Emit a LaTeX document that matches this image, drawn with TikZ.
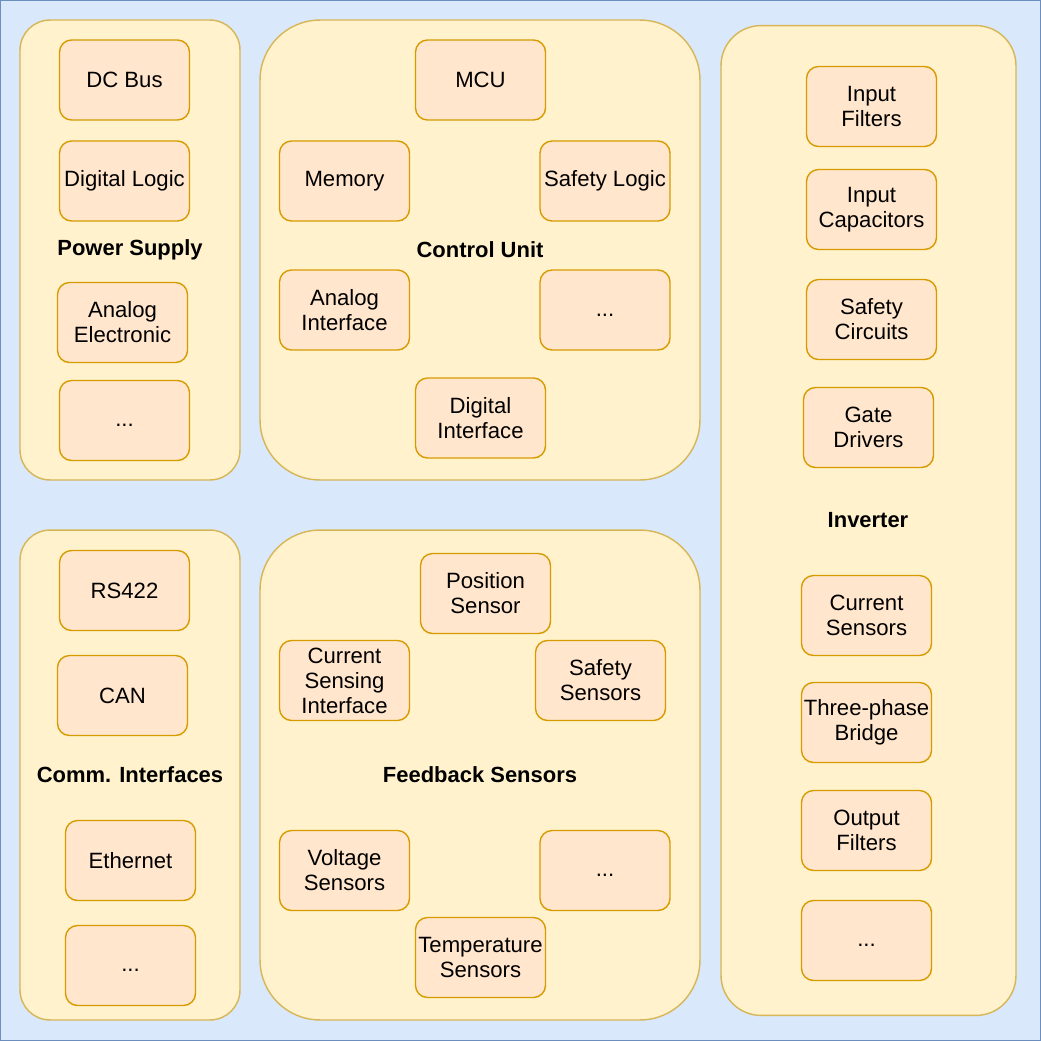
\documentclass[tikz,border=0pt]{standalone}
\usepackage{fontspec}
\setmainfont{Liberation Sans}
\usepackage{tikz}
\definecolor{bgfill}{HTML}{DAE8FC}
\definecolor{bgline}{HTML}{6C8EBF}
\definecolor{grpfill}{HTML}{FFF2CC}
\definecolor{grpline}{HTML}{D6B656}
\definecolor{boxfill}{HTML}{FFE6CC}
\definecolor{boxline}{HTML}{D79B00}
\newcommand{\etc}{\raisebox{-0.12cm}[0pt][0pt]{...}}
\tikzset{group/.style = {shape=rectangle,draw=grpline,fill=grpfill,line width=0.8pt,inner sep=0pt}}
\tikzset{part/.style = {shape=rectangle,draw=boxline,fill=boxfill,line width=0.8pt,rounded corners=0.24cm,
    minimum width=2.6cm,minimum height=1.6cm,align=center,inner sep=0pt,font=\fontsize{12.6}{14.2}\selectfont}}
\tikzset{title/.style = {font=\fontsize{12.5}{14.2}\selectfont\bfseries}}

\begin{document}
\begin{tikzpicture}[x=0.02cm,y=-0.02cm]
        \useasboundingbox (0,0) rectangle (1041,1041);
        \draw[bgline,fill=bgfill,line width=0.6pt] (0.5,0.5) rectangle (1040.5,1040.5);
        % groups
        \node[group,minimum width=4.4cm,minimum height=9.2cm,rounded corners=0.6cm] (power) at (130,250) {};
        \node[group,minimum width=8.8cm,minimum height=9.2cm,rounded corners=1.2cm] (control) at (480,250) {};
        \node[group,minimum width=5.9cm,minimum height=19.8cm,rounded corners=0.8cm] (inverter) at (868.5,520.5) {};
        \node[group,minimum width=4.4cm,minimum height=9.8cm,rounded corners=0.6cm] (comm) at (130,775) {};
        \node[group,minimum width=8.8cm,minimum height=9.8cm,rounded corners=1.2cm] (feedback) at (480,775) {};
        % power supply
        \node[part] (dcbus) at (124.5,80) {DC Bus};
        \node[part] (diglogic) at (124.5,181) {Digital Logic};
        \node[title] (powertitle) at (130,250) {Power Supply};
        \node[part] (analog) at (122.5,322.5) {Analog\\Electronic};
        \node[part] (powermore) at (124.5,420.5) {\etc};
        % control unit
        \node[part] (mcu) at (480.5,80) {MCU};
        \node[part] (memory) at (344.5,181) {Memory};
        \node[part] (safelogic) at (605,181) {Safety Logic};
        \node[title] (controltitle) at (480,250) {Control Unit};
        \node[part] (anaif) at (344.5,310) {Analog\\Interface};
        \node[part] (controlmore) at (605,310) {\etc};
        \node[part] (digif) at (480.5,418) {Digital\\Interface};
        % inverter
        \node[part] (infilt) at (871.5,106.5) {Input\\Filters};
        \node[part] (incap) at (871.5,209.5) {Input\\Capacitors};
        \node[part] (safecirc) at (871.5,319.5) {Safety\\Circuits};
        \node[part] (gate) at (868.5,427.5) {Gate\\Drivers};
        \node[title] (invtitle) at (868,520) {Inverter};
        \node[part] (cursens) at (866.5,615.5) {Current\\Sensors};
        \node[part] (bridge) at (866.5,722.5) {Three-phase\\Bridge};
        \node[part] (outfilt) at (866.5,830.5) {Output\\Filters};
        \node[part] (invmore) at (866.5,940.5) {\etc};
        % comm. interfaces
        \node[part] (rs422) at (124.5,590.5) {RS422};
        \node[part] (can) at (122.5,695.5) {CAN};
        \node[title] (commtitle) at (130,775) {Comm. Interfaces};
        \node[part] (ethernet) at (130.5,860.5) {Ethernet};
        \node[part] (commmore) at (130.5,965.5) {\etc};
        % feedback sensors
        \node[part] (position) at (485.5,593.5) {Position\\Sensor};
        \node[part] (cursensif) at (344.5,680.5) {Current\\Sensing\\Interface};
        \node[part] (safesens) at (600.5,680.5) {Safety\\Sensors};
        \node[title] (fbtitle) at (480,775) {Feedback Sensors};
        \node[part] (voltsens) at (344.5,870.5) {Voltage\\Sensors};
        \node[part] (fbmore) at (605,870.5) {\etc};
        \node[part] (tempsens) at (480.5,957.5) {Temperature\\Sensors};
    \end{tikzpicture}
\end{document}
